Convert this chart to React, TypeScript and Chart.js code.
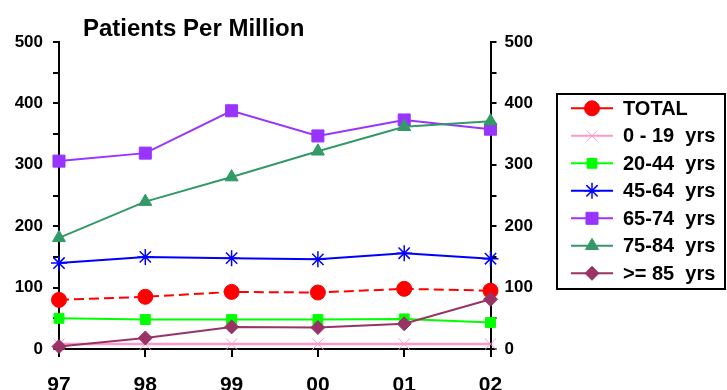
import React, { useEffect, useRef } from 'react';
import { Chart, registerables } from 'chart.js';
import { drawPoint } from 'chart.js/helpers';

Chart.register(...registerables);

const years = ['97', '98', '99', '00', '01', '02'];
const total = [80, 85, 93, 92, 98, 95];
const age0to19 = [8, 8, 8, 8, 8, 8];
const age20to44 = [50, 48, 48, 48, 49, 43];
const age45to64 = [140, 150, 148, 146, 156, 147];
const age65to74 = [306, 319, 388, 347, 373, 358];
const age75to84 = [181, 240, 280, 322, 362, 371];
const age85plus = [4, 18, 36, 35, 41, 81];

const yTicks = [0, 100, 200, 300, 400, 500];

const FONT = "'Liberation Sans', Arial, Helvetica, sans-serif";

type Series = {
  label: string;
  data: number[];
  color: string;
  style: string;
  radius: number;
  dash?: number[];
  pointBorder: number;
  lineWidth: number;
};

const series: Series[] = [
  { label: 'TOTAL', data: total, color: '#FF0000', style: 'circle', radius: 7.5, dash: [10, 5], pointBorder: 1, lineWidth: 2 },
  { label: '0 - 19  yrs', data: age0to19, color: '#FF99CC', style: 'crossRot', radius: 8, pointBorder: 1, lineWidth: 2.5 },
  { label: '20-44  yrs', data: age20to44, color: '#00FF00', style: 'rect', radius: 7, pointBorder: 1, lineWidth: 2 },
  { label: '45-64  yrs', data: age45to64, color: '#0000FF', style: 'star', radius: 8, pointBorder: 1.5, lineWidth: 2 },
  { label: '65-74  yrs', data: age65to74, color: '#9933FF', style: 'rect', radius: 8.5, pointBorder: 1, lineWidth: 2 },
  { label: '75-84  yrs', data: age75to84, color: '#339966', style: 'triangle', radius: 7.5, pointBorder: 1, lineWidth: 2 },
  { label: '>= 85  yrs', data: age85plus, color: '#993366', style: 'rectRot', radius: 7, pointBorder: 1, lineWidth: 2 },
];

// Title and boxed legend drawn straight onto the canvas
const decorations = {
  id: 'decorations',
  afterDraw(chart: Chart) {
    const ctx = chart.ctx;
    ctx.save();
    ctx.fillStyle = '#000';
    ctx.font = `bold 24px ${FONT}`;
    ctx.textAlign = 'left';
    ctx.textBaseline = 'alphabetic';
    ctx.fillText('Patients Per Million', 83, 36);

    // legend frame
    const bx = 557, by = 94, bw = 168, bh = 195;
    ctx.lineWidth = 2;
    ctx.strokeStyle = '#000';
    ctx.strokeRect(bx, by, bw, bh);

    const rowTop = 108.3;
    const rowGap = 27.5;
    series.forEach((s, i) => {
      const y = rowTop + i * rowGap;
      ctx.strokeStyle = s.color;
      ctx.fillStyle = s.color;
      ctx.lineWidth = 2;
      ctx.setLineDash([]);
      ctx.beginPath();
      ctx.moveTo(571, y);
      ctx.lineTo(613, y);
      ctx.stroke();
      ctx.lineWidth = s.pointBorder;
      drawPoint(ctx, { pointStyle: s.style as any, radius: s.radius, rotation: 0, borderWidth: s.pointBorder }, 592, y);
      ctx.fillStyle = '#000';
      ctx.font = `bold 20px ${FONT}`;
      ctx.textBaseline = 'middle';
      ctx.fillText(s.label, 623, y + 1);
    });
    ctx.restore();
  },
};

export default function App() {
  const canvasRef = useRef<HTMLCanvasElement | null>(null);

  useEffect(() => {
    const canvas = canvasRef.current;
    if (!canvas) return;

    const tickFont = { family: FONT, size: 17, weight: 'bold' as const };
    const yTickCallback = (v: any) => (yTicks.includes(Number(v)) ? String(v) : '');

    const chart = new Chart(canvas, {
      type: 'line',
      data: {
        labels: years,
        datasets: series.map((s, i) => ({
          label: s.label,
          data: s.data,
          borderColor: s.color,
          backgroundColor: s.color,
          pointBackgroundColor: s.color,
          pointBorderColor: s.color,
          pointStyle: s.style as any,
          pointRadius: s.radius,
          pointBorderWidth: s.pointBorder,
          borderWidth: s.lineWidth,
          borderDash: s.dash ?? [],
          tension: 0,
          fill: false,
          clip: false as any,
          order: series.length - i,
          yAxisID: 'y',
        })),
      },
      options: {
        responsive: false,
        animation: false,
        devicePixelRatio: 1,
        layout: { padding: { left: 0, top: 42, right: 186.5, bottom: 0 } },
        plugins: {
          legend: { display: false },
          title: { display: false },
          tooltip: { enabled: false },
        },
        scales: {
          x: {
            type: 'category',
            offset: false,
            grid: {
              drawOnChartArea: false,
              drawTicks: true,
              tickLength: 8,
              color: '#000',
              lineWidth: 2,
              offset: false,
            },
            border: { display: true, color: '#000', width: 2 },
            ticks: {
              color: '#000',
              font: { family: FONT, size: 21, weight: 'bold' },
              padding: 16,
              maxRotation: 0,
              autoSkip: false,
            },
            afterFit: (scale: any) => {
              scale.height = 41;
            },
          },
          y: {
            position: 'left',
            min: 0,
            max: 500,
            grid: {
              drawOnChartArea: false,
              drawTicks: true,
              tickLength: 6,
              color: '#000',
              lineWidth: 2,
            },
            border: { display: true, color: '#000', width: 2 },
            ticks: {
              stepSize: 50,
              color: '#000',
              font: tickFont,
              padding: 10,
              callback: yTickCallback,
            },
            afterFit: (scale: any) => {
              scale.width = 59;
            },
          },
          y2: {
            position: 'right',
            min: 0,
            max: 500,
            grid: {
              drawOnChartArea: false,
              drawTicks: true,
              tickLength: 6,
              color: '#000',
              lineWidth: 2,
            },
            border: { display: true, color: '#000', width: 2 },
            ticks: {
              stepSize: 50,
              color: '#000',
              font: tickFont,
              padding: 8,
              callback: yTickCallback,
            },
            afterFit: (scale: any) => {
              scale.width = 50;
            },
          },
        },
      },
      plugins: [decorations],
    });

    return () => chart.destroy();
  }, []);

  return (
    <div style={{ position: 'absolute', left: 0, top: 0, width: 727, height: 390, background: '#fff', overflow: 'hidden' }}>
      <canvas ref={canvasRef} width={727} height={390} style={{ display: 'block', width: 727, height: 390 }} />
    </div>
  );
}
